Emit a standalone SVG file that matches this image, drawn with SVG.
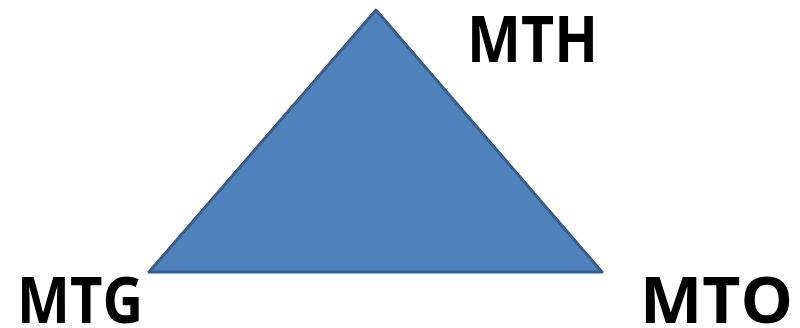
<svg xmlns="http://www.w3.org/2000/svg" width="800" height="328" viewBox="0 0 800 328">
<style>
.lbl{font-family:"Open Sans","Liberation Sans",Arial,sans-serif;font-weight:bold;font-size:65px;fill:#000}
.tri{fill:#4F81BD;stroke:#385D8A;stroke-width:3;stroke-linejoin:round}
</style>
<rect width="800" height="328" fill="#fff"/>
<g id="triangle"><polygon class="tri" points="376,10 149,272 602,272"/></g>
<g id="connectors"></g>
<g id="MTH"><text class="lbl" x="467" y="62" textLength="131" lengthAdjust="spacingAndGlyphs">MTH</text></g>
<g id="MTG"><text class="lbl" x="17" y="323" textLength="126" lengthAdjust="spacingAndGlyphs">MTG</text></g>
<g id="MTO"><text class="lbl" x="640" y="323" textLength="153" lengthAdjust="spacingAndGlyphs">MTO</text></g>
</svg>
